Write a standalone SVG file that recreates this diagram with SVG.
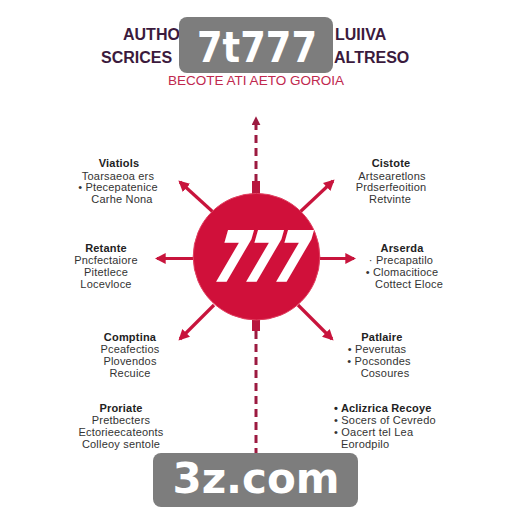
<svg xmlns="http://www.w3.org/2000/svg" width="512" height="512" viewBox="0 0 512 512">
<defs>
<marker id="ah" viewBox="0 0 10 10" refX="8" refY="5" markerWidth="3.4" markerHeight="3.4" orient="auto" markerUnits="strokeWidth">
<path d="M0,0 L10,5 L0,10 Z" fill="#c8143c"/>
</marker>
<marker id="ahd" viewBox="0 0 10 10" refX="8" refY="5" markerWidth="3" markerHeight="3" orient="auto" markerUnits="strokeWidth">
<path d="M0,0 L10,5 L0,10 Z" fill="#9c1a40"/>
</marker>
<style>
.t{font-family:"Liberation Sans",Arial,sans-serif;font-size:11px;fill:#333;text-anchor:middle;letter-spacing:0.2px}
.b{font-weight:bold;fill:#222}
.l{text-anchor:start}
.ar{stroke:#c8143c;stroke-width:3.2;fill:none;marker-end:url(#ah)}
.ds{stroke:#9c1a40;stroke-width:3;stroke-dasharray:8 5;fill:none}
.ttl{font-family:"Liberation Sans",Arial,sans-serif;font-size:16px;font-weight:bold;fill:#3b1a3d}
.hub{font-family:"DejaVu Sans",sans-serif;font-size:66px;font-weight:bold;fill:#ffffff;stroke:#ffffff;stroke-width:3.5;stroke-linejoin:miter;text-anchor:middle}
.wm{font-family:"DejaVu Sans",sans-serif;font-weight:bold;fill:#ffffff;text-anchor:middle}
</style>
</defs>
<rect width="512" height="512" fill="#ffffff"/>

<g id="title">
<text class="ttl" x="123" y="40">AUTHO</text>
<text class="ttl" x="335" y="40">LUIIVA</text>
<text class="ttl" x="101" y="63">SCRICES</text>
<text class="ttl" x="334" y="63">ALTRESO</text>
<text x="256" y="85" style="font-family:'Liberation Sans',Arial,sans-serif;font-size:12px;fill:#c0284e;text-anchor:middle" textLength="176" lengthAdjust="spacingAndGlyphs">BECOTE ATI AETO GOROIA</text>
</g>

<g id="connectors">
<line class="ds" x1="256" y1="182" x2="256" y2="118" marker-end="url(#ahd)"/>
<rect x="252" y="181" width="8" height="13" fill="#b8163e"/>
<rect x="252" y="319" width="8" height="12" fill="#b8163e"/>
<line class="ds" x1="256" y1="331" x2="256" y2="456"/>
<line class="ar" x1="213" y1="212" x2="180" y2="182"/>
<line class="ar" x1="300" y1="212" x2="333" y2="181"/>
<line class="ar" x1="195" y1="258.5" x2="157" y2="258.5"/>
<line class="ar" x1="318" y1="258.5" x2="354" y2="258.5"/>
<line class="ar" x1="214" y1="305" x2="180" y2="339"/>
<line class="ar" x1="298" y1="305" x2="332" y2="339"/>
</g>

<g id="hub">
<circle cx="256.5" cy="256.7" r="63.3" fill="#d0103a" stroke="#e04060" stroke-width="1"/>
<g transform="translate(257 280) skewX(-16)">
<text class="hub" x="0" y="0" textLength="90" lengthAdjust="spacingAndGlyphs">777</text>
</g>
</g>

<g id="node-tl">
<text class="t b" x="119" y="167">Viatiols</text>
<text class="t" x="118" y="180">Toarsaeoa ers</text>
<text class="t" x="118" y="191">• Ptecepatenice</text>
<text class="t" x="122" y="203">Carhe Nona</text>
</g>
<g id="node-tr">
<text class="t b" x="391" y="167">Cistote</text>
<text class="t" x="392" y="180">Artsearetlons</text>
<text class="t" x="391" y="191">Prdserfeoition</text>
<text class="t" x="390" y="203">Retvinte</text>
</g>
<g id="node-ml">
<text class="t b" x="106" y="252">Retante</text>
<text class="t" x="106" y="264">Pncfectaiore</text>
<text class="t" x="106" y="276">Pitetlece</text>
<text class="t" x="106" y="288">Locevloce</text>
</g>
<g id="node-mr">
<text class="t b" x="402" y="252">Arserda</text>
<text class="t" x="401" y="264">· Precapatilo</text>
<text class="t" x="402" y="276">• Clomacitioce</text>
<text class="t" x="409" y="288">Cottect Eloce</text>
</g>
<g id="node-bl">
<text class="t b" x="130" y="341">Comptina</text>
<text class="t" x="130" y="353">Pceafectios</text>
<text class="t" x="130" y="365">Plovendos</text>
<text class="t" x="130" y="377">Recuice</text>
</g>
<g id="node-br">
<text class="t b" x="382" y="341">Patlaire</text>
<text class="t" x="377" y="353">• Peverutas</text>
<text class="t" x="379" y="365">• Pocsondes</text>
<text class="t" x="385" y="377">Cosoures</text>
</g>
<g id="node-bbl">
<text class="t b" x="121" y="412">Proriate</text>
<text class="t" x="121" y="424">Pretbecters</text>
<text class="t" x="121" y="436">Ectorieecateonts</text>
<text class="t" x="121" y="448">Colleoy sentole</text>
</g>
<g id="node-bbr">
<text class="t b l" x="334" y="412">• Aclizrica Recoye</text>
<text class="t l" x="334" y="424">• Socers of Cevredo</text>
<text class="t l" x="334" y="436">• Oacert tel Lea</text>
<text class="t l" x="341" y="448">Eorodpilo</text>
</g>

<g id="watermark-top">
<rect x="179" y="17" width="154" height="56" rx="8" fill="#7d7d7d"/>
<text class="wm" x="257" y="62" font-size="43" textLength="120" lengthAdjust="spacingAndGlyphs">7t777</text>
</g>
<g id="watermark-bottom">
<rect x="153" y="453" width="205" height="54" rx="8" fill="#7d7d7d"/>
<text class="wm" x="256" y="493" font-size="42">3z.com</text>
</g>
</svg>
